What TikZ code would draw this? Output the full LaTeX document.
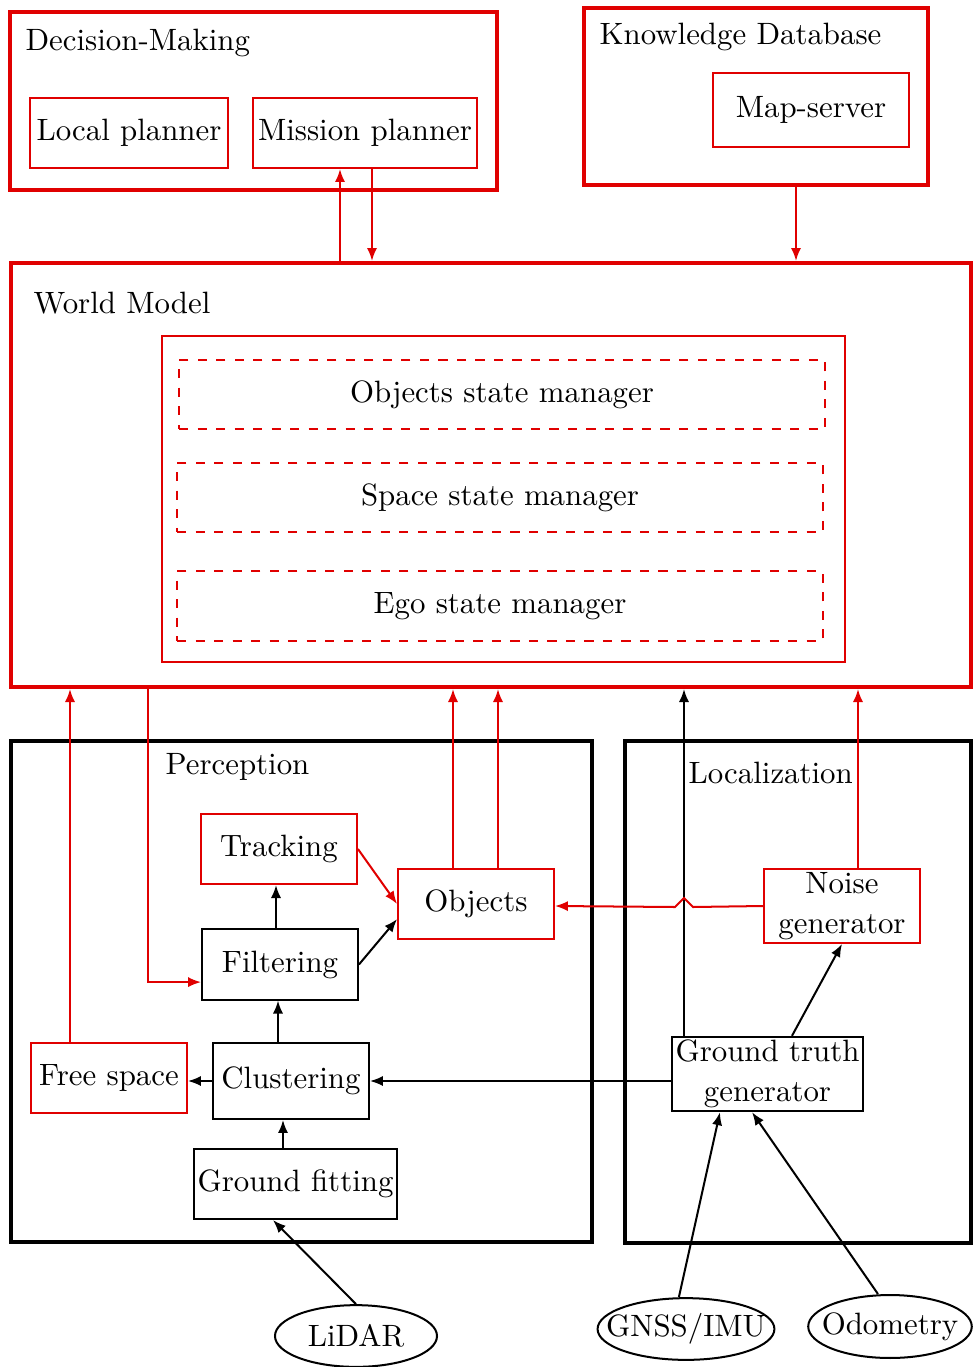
\documentclass[tikz,border=0pt]{standalone}
\usetikzlibrary{shapes.geometric,arrows.meta}
\definecolor{wmred}{HTML}{E00000}

\begin{document}
\begin{tikzpicture}[x=0.324pt, y=-0.324pt,
    group/.style={draw=black, line width=1.3pt, inner sep=0pt},
    rgroup/.style={draw=wmred, line width=1.3pt, inner sep=0pt},
    box/.style={draw=black, line width=0.65pt, minimum width=50.5pt, minimum height=22.7pt,
                align=center, inner sep=1pt},
    rbox/.style={box, draw=wmred},
    mgr/.style={draw=wmred, dashed, line width=0.65pt, minimum width=209.3pt, minimum height=22.4pt},
    sensor/.style={ellipse, draw=black, line width=0.65pt, inner sep=0pt, minimum height=20pt},
    title/.style={anchor=west, inner sep=0pt},
    ar/.style={-{Latex[length=4.2pt,width=3.3pt]}, line width=0.65pt, draw=black},
    rar/.style={ar, draw=wmred}]
    \useasboundingbox (0,0) rectangle (973,1367);
    % containers
    \node[rgroup, minimum width=157.8pt, minimum height=57.7pt] (dm) at (253.5,101) {};
    \node[rgroup, minimum width=111.5pt, minimum height=57.3pt] (kd) at (756,96.5) {};
    \node[rgroup, minimum width=311pt, minimum height=137.4pt] (wm) at (491,475) {};
    \node[group, minimum width=188.2pt, minimum height=162.3pt] (pc) at (301.5,991.5) {};
    \node[group, minimum width=112.1pt, minimum height=162.6pt] (lc) at (798,992) {};
    \node[title] at (25,43) {Decision-Making};
    \node[title] at (599,37) {Knowledge Database};
    \node[title] at (33,303) {World Model};
    \node[title] at (165,767) {Perception};
    \node[title] at (688,773) {Localization};
    % decision making + knowledge
    \node[rbox, minimum width=64.2pt] (lp) at (129,133) {Local planner};
    \node[rbox, minimum width=72.6pt] (mp) at (365,133) {Mission planner};
    \node[rbox, minimum width=63.5pt, minimum height=24pt] (ms) at (811,110) {Map-server};
    % world model
    \node[rbox, minimum width=221.3pt, minimum height=105.6pt] (wmin) at (503.5,499) {};
    \node[mgr] (osm) at (502,394.5) {Objects state manager};
    \node[mgr] (ssm) at (500,497.5) {Space state manager};
    \node[mgr] (esm) at (500,606) {Ego state manager};
    % perception
    \node[rbox] (tr) at (279,849) {Tracking};
    \node[rbox] (obj) at (476,904) {Objects};
    \node[box] (fl) at (280,964.5) {Filtering};
    \node[rbox] (fs) at (109,1078) {Free space};
    \node[box, minimum height=24.6pt] (cl) at (291,1081) {Clustering};
    \node[box, minimum width=65.8pt] (gf) at (295.5,1184) {Ground fitting};
    % localization
    \node[box, minimum width=61.9pt] (gt) at (767.5,1074) {Ground truth\\[1pt]generator};
    \node[rbox] (ng) at (842,906) {Noise\\[1pt]generator};
    % sensors
    \node[sensor, minimum width=52.5pt] (ld) at (356,1336) {LiDAR};
    \node[sensor, minimum width=57.3pt, inner xsep=-7.2pt] (gn) at (686,1329) {GNSS/IMU};
    \node[sensor, minimum width=53pt, minimum height=20.4pt, inner xsep=-4.3pt] (od) at (890,1326.5) {Odometry};

    \draw[rar] (wm.north -| 340,0) -- (mp.south -| 340,0);
    \draw[rar] (mp.south -| 372,0) -- (wm.north -| 372,0);
    \draw[rar] (kd.south -| 796,0) -- (wm.north -| 796,0);
    \draw[rar] (fs.north -| 70,0) -- (wm.south -| 70,0);
    \draw[rar] (wm.south -| 148,0) |- ([yshift=-5.7pt]fl.west);
    \draw[rar] (obj.north -| 453,0) -- (wm.south -| 453,0);
    \draw[rar] (obj.north -| 498,0) -- (wm.south -| 498,0);
    \draw[ar] (gt.north -| 684,0) -- (wm.south -| 684,0);
    \draw[rar] (ng.north -| 858,0) -- (wm.south -| 858,0);
    \draw[rar] (ng.west) -- (693,907) -- (684,898) -- (675,907) -- (obj.east |- ng.west);
    \draw[rar] (tr.east) -- (obj.west);
    \draw[ar] (fl.east) -- ([yshift=-4.9pt]obj.west);
    \draw[ar] (fl.north -| 276,0) -- (tr.south -| 276,0);
    \draw[ar] (cl.north -| 278,0) -- (fl.south -| 278,0);
    \draw[ar] (cl.west) -- (fs.east |- cl.west);
    \draw[ar] (gt.west |- cl.east) -- (cl.east);
    \draw[ar] (gf.north -| 283,0) -- (cl.south -| 283,0);
    \draw[ar] (ld.north) -- ([xshift=-7.3pt]gf.south);
    \draw[ar] (gt.north -| 792,0) -- (ng.south);
    \draw[ar] ([xshift=-2.3pt]gn.north) -- ([xshift=-15.4pt]gt.south);
    \draw[ar] ([xshift=-3.9pt]od.north) -- ([xshift=-5pt]gt.south);
\end{tikzpicture}
\end{document}
